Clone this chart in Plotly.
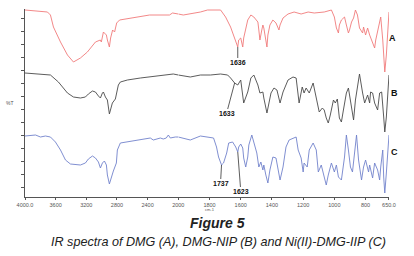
import plotly.graph_objects as go

# ---------------- data (wavenumber cm-1, stacked %T in arbitrary units) -------------
a_wn = [4000, 3707, 3668, 3629, 3537, 3446, 3368, 3277, 3186, 3120, 3081, 3017, 3004, 2977, 2938,
        2925, 2899, 2883, 2857, 2831, 2804, 2766, 2596, 2375, 2115, 2075, 2000, 1968, 1858, 1813,
        1729, 1697, 1665, 1645, 1619, 1613, 1600, 1587, 1581, 1555, 1535, 1516, 1490, 1484, 1477,
        1465, 1458, 1452, 1439, 1432, 1426, 1413, 1394, 1374, 1355, 1348, 1329, 1297, 1258, 1213,
        1168, 1129, 1065, 1019, 1000, 987, 974, 968, 955, 935, 923, 910, 903, 890, 877, 865, 852,
        839, 819, 813, 800, 787, 774, 761, 742, 735, 723, 710, 703, 690, 684, 677, 667, 658, 650]
a_t = [190, 188, 185, 173, 158, 145, 138, 142, 148, 155, 158, 160, 158, 168, 165,
       160, 153, 162, 170, 168, 177, 180, 182, 185, 185, 187, 186, 185, 188, 190,
       190, 183, 173, 165, 153, 160, 162, 153, 162, 180, 185, 183, 178, 170, 160,
       170, 175, 172, 160, 153, 165, 175, 180, 177, 170, 175, 182, 186, 188, 186,
       188, 187, 188, 190, 183, 172, 167, 175, 180, 183, 175, 167, 170, 178, 182, 190, 185,
       172, 167, 173, 165, 172, 165, 160, 152, 160, 170, 180, 183, 160, 140, 128, 145, 170, 188]

b_wn = [4000, 3668, 3564, 3498, 3446, 3368, 3277, 3212, 3173, 3120, 3081, 3042, 3016, 2990, 2977,
        2951, 2925, 2899, 2860, 2821, 2795, 2782, 2756, 2664, 2495, 2274, 2065, 2000, 1968, 1923,
        1858, 1794, 1729, 1684, 1665, 1639, 1619, 1600, 1581, 1555, 1535, 1516, 1490, 1477, 1458,
        1452, 1432, 1419, 1406, 1387, 1368, 1348, 1329, 1297, 1265, 1245, 1226, 1206, 1194, 1181,
        1161, 1136, 1116, 1097, 1077, 1065, 1052, 1039, 1026, 1006, 994, 981, 968, 955, 942, 923,
        910, 897, 877, 865, 845, 839, 819, 806, 787, 774, 768, 755, 742, 723, 710, 697, 684, 677,
        667, 658, 650]
b_t = [127, 125, 118, 112, 107, 103, 102, 103, 106, 109, 108, 104, 102, 107, 108,
       103, 100, 86, 97, 101, 110, 115, 118, 120, 122, 124, 126, 125, 124, 123,
       125, 125, 126, 125, 122, 117, 115, 120, 97, 108, 122, 125, 115, 107, 108,
       102, 87, 97, 107, 112, 110, 97, 108, 120, 123, 122, 97, 113, 107, 112,
       107, 117, 103, 88, 92, 90, 82, 77, 85, 100, 97, 101, 82, 78, 90, 107,
       112, 100, 80, 100, 123, 126, 107, 97, 105, 97, 108, 107, 97, 90, 107, 108, 83, 68,
       83, 103, 125]

c_wn = [4000, 3863, 3798, 3733, 3668, 3603, 3537, 3472, 3407, 3277, 3212, 3173, 3120, 3081, 3042,
        3016, 2990, 2964, 2938, 2925, 2899, 2873, 2847, 2808, 2795, 2756, 2664, 2495, 2365, 2326,
        2234, 2196, 2157, 2130, 2104, 2039, 2000, 1968, 1923, 1858, 1794, 1774, 1755, 1742, 1723,
        1710, 1690, 1677, 1652, 1632, 1619, 1613, 1600, 1587, 1581, 1568, 1555, 1548, 1529, 1516,
        1497, 1484, 1471, 1458, 1452, 1439, 1426, 1413, 1394, 1374, 1361, 1348, 1329, 1310, 1290,
        1265, 1245, 1232, 1213, 1200, 1194, 1174, 1161, 1136, 1116, 1103, 1084, 1065, 1052, 1039,
        1019, 1000, 987, 974, 955, 935, 923, 910, 897, 884, 871, 858, 845, 826, 813, 800, 781,
        774, 755, 742, 723, 710, 703, 690, 684, 677, 667, 658, 650]
c_t = [64, 65, 63, 64, 63, 58, 50, 40, 36, 35, 37, 41, 44, 42, 38,
       32, 37, 39, 35, 25, 16, 23, 29, 37, 50, 57, 58, 60, 62, 60,
       62, 61, 62, 65, 62, 63, 63, 62, 60, 64, 63, 62, 53, 43, 35,
       37, 47, 57, 58, 53, 48, 53, 56, 52, 42, 33, 43, 55, 65, 57,
       47, 33, 38, 30, 35, 25, 17, 30, 43, 42, 30, 20, 33, 53, 60,
       62, 63, 50, 42, 28, 37, 33, 50, 57, 50, 28, 35, 23, 15, 25,
       37, 28, 35, 23, 20, 43, 65, 50, 33, 28, 50, 65, 40, 20, 33, 40, 28,
       35, 22, 37, 30, 20, 33, 50, 23, 7, 27, 53, 65]

series_names = ["A", "B", "C"]
series_colors = ["#f07a7a", "#4a4a4a", "#7282cc"]
series_label_t = [162, 107, 48]

left_ticks = [4000, 3600, 3200, 2800, 2400]
left_ticktext = ["4000.0", "3600", "3200", "2800", "2400"]
right_ticks = [2000, 1800, 1600, 1400, 1200, 1000, 800, 650]
right_ticktext = ["2000", "1800", "1600", "1400", "1200", "1000", "800", "650.0"]
y_ticks = [13 * k for k in range(1, 15)]

# peak labels: (text, axis, wavenumber, %T, dx, dy)
peak_labels = [
    ("1636", "x2", 1619, 153, 0, 15),
    ("1633", "x2", 1639, 117, -8, 30),
    ("1737", "x2", 1723, 35, -1, 18),
    ("1623", "x2", 1619, 48, 3, 39),
]

BREAK = 2000
fig = go.Figure()
for wn, t, col in [(a_wn, a_t, series_colors[0]), (b_wn, b_t, series_colors[1]), (c_wn, c_t, series_colors[2])]:
    lw = [w for w in wn if w >= BREAK]
    lt = [v for w, v in zip(wn, t) if w >= BREAK]
    rw = [w for w in wn if w <= BREAK]
    rt = [v for w, v in zip(wn, t) if w <= BREAK]
    fig.add_trace(go.Scatter(x=lw, y=lt, xaxis="x", yaxis="y", mode="lines",
                             line=dict(color=col, width=0.9), showlegend=False, hoverinfo="skip"))
    fig.add_trace(go.Scatter(x=rw, y=rt, xaxis="x2", yaxis="y", mode="lines",
                             line=dict(color=col, width=0.9), showlegend=False, hoverinfo="skip"))

axis_col = "#555555"
tickfont = dict(family="Liberation Sans, Arial, sans-serif", size=5.5, color="#555555")
L, R, T, B = 24.5, 25, 9, 59
W, H = 414, 256
pw = W - L - R
ph = H - T - B
split = 153.5 / pw

fig.update_layout(
    width=W, height=H, margin=dict(l=L, r=R, t=T, b=B, pad=0),
    paper_bgcolor="white", plot_bgcolor="white",
    xaxis=dict(domain=[0, split], range=[4000, 2000], tickvals=left_ticks, ticktext=left_ticktext,
               showline=True, linecolor=axis_col, linewidth=1, ticks="outside", ticklen=2,
               tickcolor=axis_col, tickfont=tickfont, showgrid=False, zeroline=False, anchor="y"),
    xaxis2=dict(domain=[split, 1], range=[2000, 650], tickvals=right_ticks, ticktext=right_ticktext,
                showline=True, linecolor=axis_col, linewidth=1, ticks="outside", ticklen=2,
                tickcolor=axis_col, tickfont=tickfont, showgrid=False, zeroline=False, anchor="y"),
    yaxis=dict(range=[3, 191], tickvals=y_ticks, showticklabels=False, ticks="outside", ticklen=3,
               tickcolor=axis_col, showline=True, linecolor=axis_col, linewidth=1,
               showgrid=False, zeroline=False, anchor="x"),
)

def px_to_paper_x(px):
    return (px - L) / pw

def py_to_paper_y(py):
    return (H - B - py) / ph

label_font = dict(family="Liberation Sans Narrow, Arial Narrow, Liberation Sans, sans-serif", size=7, color="#111111")
for text, ax_ref, wn, tv, dx, dy in peak_labels:
    fig.add_annotation(x=wn, y=tv, xref=ax_ref, yref="y", text="<b>%s</b>" % text, showarrow=True,
                       arrowhead=0, arrowwidth=0.8, arrowcolor="#333333", ax=dx, ay=dy,
                       font=label_font, borderpad=0, standoff=0)

for name, tv, px in zip(series_names, series_label_t, [393, 395, 395]):
    fig.add_annotation(x=px_to_paper_x(px), y=tv, xref="paper", yref="y", text="<b>%s</b>" % name,
                       showarrow=False, font=dict(family="Liberation Sans, Arial, sans-serif", size=9, color="#111111"),
                       xanchor="center", yanchor="middle")

fig.add_annotation(x=px_to_paper_x(9), y=py_to_paper_y(103), xref="paper", yref="paper", text="%T",
                   showarrow=False, font=dict(family="Liberation Sans, Arial, sans-serif", size=5, color="#555555"),
                   xanchor="center", yanchor="middle")
fig.add_annotation(x=px_to_paper_x(210), y=py_to_paper_y(209), xref="paper", yref="paper", text="cm-1",
                   showarrow=False, font=dict(family="Liberation Sans, Arial, sans-serif", size=4, color="#555555"),
                   xanchor="center", yanchor="middle")
fig.add_annotation(x=px_to_paper_x(217), y=py_to_paper_y(223), xref="paper", yref="paper",
                   text="<b><i>Figure 5</i></b>", showarrow=False,
                   font=dict(family="Liberation Sans, Arial, sans-serif", size=14, color="#222222"),
                   xanchor="center", yanchor="middle")
fig.add_annotation(x=px_to_paper_x(218), y=py_to_paper_y(242), xref="paper", yref="paper",
                   text="<i>IR spectra of DMG (A), DMG-NIP (B) and Ni(II)-DMG-IIP (C)</i>", showarrow=False,
                   font=dict(family="Liberation Sans, Arial, sans-serif", size=12.6, color="#222222"),
                   xanchor="center", yanchor="middle")

fig.write_html("out.html", config={"displayModeBar": False},
               post_script="document.body.style.margin='0';document.body.style.overflow='hidden';")
